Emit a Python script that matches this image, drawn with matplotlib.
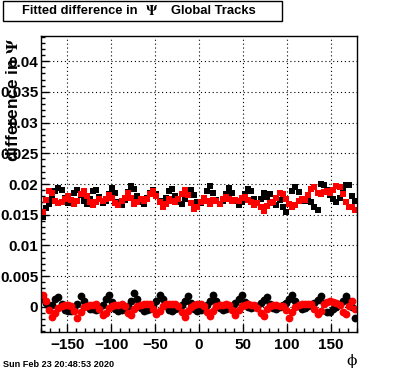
import numpy as np
import matplotlib.pyplot as plt
from matplotlib.ticker import MultipleLocator, FormatStrFormatter

plt.rcParams['font.family'] = 'Liberation Sans'
plt.rcParams['font.weight'] = 'bold'
plt.rcParams['mathtext.fontset'] = 'stix'

# bin centres in phi (100 bins over -180..180)
phi = np.linspace(-178.2, 178.2, 100)

# values in units of 1e-3
black_sq = [14.6, 16.1, 16.8, 17.5, 18.9, 19.4, 19.0, 17.8, 16.9, 17.4,
            18.6, 19.1, 18.2, 17.3, 16.8, 17.6, 18.8, 19.0, 17.9, 16.9,
            17.2, 18.4, 19.3, 18.5, 17.1, 16.6, 17.4, 18.7, 19.7, 19.2,
            18.0, 17.0, 16.8, 17.7, 18.5, 19.0, 18.3, 17.2, 16.9, 17.8,
            18.8, 19.2, 18.1, 17.0, 16.7, 17.5, 18.6, 19.0, 18.2, 17.1,
            16.9, 17.6, 18.9, 19.7, 18.6, 17.4, 16.8, 17.3, 18.4, 19.3,
            18.5, 17.2, 16.6, 17.0, 18.3, 19.2, 18.8, 17.6, 16.9, 17.5,
            18.6, 17.9, 18.3, 17.0, 16.6, 17.4, 16.2, 15.5, 16.8, 18.8,
            19.5, 18.7, 17.6, 17.2, 18.1, 17.0, 16.3, 15.8, 20.0, 19.8,
            19.1, 18.2, 17.5, 17.0, 17.8, 19.0, 19.8, 19.9, 18.0, 17.2]

red_sq = [15.5, 17.4, 18.9, 18.6, 17.3, 16.9, 17.0, 17.6, 18.0, 17.4,
          16.8, 17.2, 18.3, 18.9, 18.1, 17.0, 16.5, 17.1, 17.6, 17.3,
          17.5, 18.2, 17.8, 16.9, 16.6, 17.2, 17.8, 18.5, 17.7, 16.8,
          17.1, 17.5, 17.3, 17.6, 18.3, 18.8, 18.0, 17.1, 16.2, 16.8,
          17.6, 17.2, 17.0, 17.5, 18.4, 19.0, 18.2, 16.9, 15.9, 16.2,
          17.0, 17.7, 17.2, 16.8, 17.4, 17.3, 16.8, 17.6, 17.9, 17.5,
          17.2, 17.4, 17.3, 17.7, 17.9, 17.4, 17.0, 16.6, 16.9, 16.3,
          15.6, 16.4, 16.9, 17.1, 17.8, 18.6, 18.4, 17.6, 16.8, 16.3,
          16.6, 17.2, 17.6, 17.4, 18.2, 19.2, 19.5, 18.6, 18.3, 18.7,
          18.9, 18.6, 19.0, 19.6, 19.5, 18.3, 17.0, 16.3, 16.2, 15.8]

black_ci = [1.2, 0.6, 0.0, 0.3, 1.2, 1.6, 0.5, -0.5, -0.7, -0.6,
            -0.3, 0.4, 1.7, 1.0, 0.1, -0.3, -0.4, -0.5, -0.3, 0.3,
            1.2, 2.0, 0.8, -0.4, -0.6, -0.5, -0.3, 0.2, 1.0, 2.2,
            1.2, -0.2, -0.6, -0.5, -0.3, 0.2, 0.9, 1.9, 1.3, 0.1,
            -0.5, -0.6, -0.4, -0.2, 0.3, 1.0, 1.7, 0.6, -0.3, -0.6,
            -0.5, -0.2, 0.3, 1.0, 2.0, 1.0, -0.2, -0.5, -0.4, -0.1,
            0.2, 0.7, 1.2, 1.9, 0.8, 0.0, -0.2, 0.0, 0.2, 0.6,
            1.1, 1.6, 0.5, -0.2, -0.3, 0.0, 0.3, 0.6, 1.2, 2.0,
            1.0, 0.1, -0.3, -0.2, 0.1, 0.3, 0.6, 1.1, 1.7, 0.6,
            -0.8, -0.9, -0.4, 0.0, 0.4, 1.0, 1.8, 1.0, 0.0, -1.8]

red_ci = [2.0, 0.9, -0.5, -1.6, -1.0, -0.2, 0.2, 0.3, 0.3, 0.2,
          -0.6, -1.8, -0.9, -0.1, 0.2, 0.3, 0.3, 0.4, -0.3, -1.3,
          -1.0, -0.2, 0.2, 0.3, 0.3, 0.4, 0.1, -1.0, -1.4, -0.4,
          0.1, 0.3, 0.4, 0.4, 0.5, -0.3, -1.2, -0.6, 0.1, 0.4,
          0.5, 0.5, 0.5, 0.2, -0.9, -1.6, -0.7, 0.0, 0.3, 0.4,
          0.4, 0.2, -0.8, -1.5, -0.6, 0.1, 0.3, 0.3, 0.4, 0.3,
          -0.5, -1.4, -0.5, 0.2, 0.3, 0.4, 0.3, 0.3, -0.2, -1.0,
          -1.5, -0.4, 0.2, 0.3, 0.3, 0.2, 0.2, -0.5, -1.9, -0.8,
          0.0, 0.3, 0.4, 0.5, 0.5, 0.4, -0.3, -1.1, -0.6, 0.5,
          0.8, 0.9, 0.8, 0.6, 0.3, -0.8, -1.2, 0.2, 0.9, -0.4]

fig = plt.figure(figsize=(3.96, 3.72), dpi=100)
ax = fig.add_axes([41 / 396, 40 / 372, 316 / 396, 296 / 372])

scale = 1e-3
ax.plot(phi, np.array(black_sq) * scale, 's', color='black', ms=5, mew=0)
ax.plot(phi, np.array(black_ci) * scale, 'o', color='black', ms=5.6, mew=0)
ax.plot(phi, np.array(red_sq) * scale, 's', color='red', ms=5, mew=0)
ax.plot(phi, np.array(red_ci) * scale, 'o', color='red', ms=5.6, mew=0)

ax.set_xlim(-180, 180)
ax.set_ylim(-0.0041, 0.0441)

ax.xaxis.set_major_locator(MultipleLocator(50))
ax.xaxis.set_minor_locator(MultipleLocator(10))
ax.yaxis.set_major_locator(MultipleLocator(0.005))
ax.yaxis.set_minor_locator(MultipleLocator(0.001))
ax.yaxis.set_major_formatter(FormatStrFormatter('%g'))

ax.tick_params(which='both', direction='in', top=False, right=False, width=1)
ax.tick_params(which='major', length=6, labelsize=11)
ax.tick_params(axis='y', which='major', pad=2)
ax.tick_params(axis='x', which='major', pad=4)
ax.tick_params(which='minor', length=3)
for s in ax.spines.values():
    s.set_linewidth(1)

ax.grid(True, which='major', linestyle=(0, (1, 2.5)), color='black', linewidth=0.8)

# title box
fig.patches.append(plt.Rectangle((3 / 396, 1 - 21 / 372), 279 / 396, 20 / 372,
                                 transform=fig.transFigure, facecolor='white',
                                 edgecolor='black', linewidth=1, zorder=-1))
fig.text(22 / 396, 1 - 11 / 372, 'Fitted difference in', fontsize=9.3, weight='bold',
         va='center', ha='left')
fig.text(152 / 396, 1 - 11 / 372, '$\\Psi$', fontsize=10, va='center', ha='center')
fig.text(171 / 396, 1 - 11 / 372, 'Global Tracks', fontsize=9.4, weight='bold',
         va='center', ha='left')

# axis labels
fig.text(13 / 396, 1 - 38 / 372, 'difference in $\\Psi$', rotation=90, fontsize=12.5,
         weight='bold', va='top', ha='center')
fig.text(352 / 396, 4 / 372, 'ϕ', family='DejaVu Serif', weight='normal', fontsize=11,
         va='bottom', ha='center')

fig.text(3 / 396, 3 / 372, 'Sun Feb 23 20:48:53 2020', fontsize=6.6, weight='bold',
         va='bottom', ha='left')

fig.savefig('out.png', dpi=100)
